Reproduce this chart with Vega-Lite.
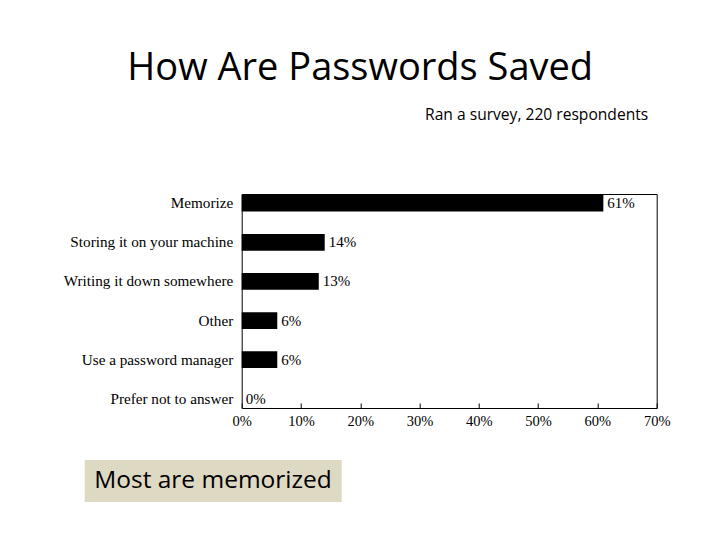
{
  "$schema": "https://vega.github.io/schema/vega-lite/v6.json",
  "width": 415,
  "height": 214,
  "autosize": {"type": "none"},
  "padding": {"left": 241.7, "top": 194, "right": 63.3, "bottom": 132},
  "background": "white",
  "title": {
    "text": "How Are Passwords Saved",
    "font": "Open Sans",
    "fontSize": 38,
    "fontWeight": "normal",
    "color": "black",
    "anchor": "middle",
    "frame": "group",
    "dx": -89,
    "offset": 19
  },
  "data": {
    "values": [
      {"option": "Memorize", "share": 0.61},
      {"option": "Storing it on your machine", "share": 0.14},
      {"option": "Writing it down somewhere", "share": 0.13},
      {"option": "Other", "share": 0.06},
      {"option": "Use a password manager", "share": 0.06},
      {"option": "Prefer not to answer", "share": 0.0}
    ]
  },
  "encoding": {
    "y": {
      "field": "option",
      "type": "nominal",
      "sort": null,
      "scale": {"paddingInner": 0.57, "paddingOuter": 0.02},
      "axis": {
        "domain": false,
        "ticks": false,
        "labelFont": "Liberation Serif",
        "labelFontSize": 15.2,
        "labelColor": "black",
        "labelPadding": 9,
        "labelLimit": 0,
        "title": "Ran a survey, 220 respondents",
        "titleAngle": 0,
        "titleX": 406,
        "titleY": -75,
        "titleAlign": "right",
        "titleBaseline": "alphabetic",
        "titleFont": "Open Sans",
        "titleFontSize": 15.6,
        "titleFontWeight": "normal",
        "titleColor": "black"
      }
    },
    "x": {
      "field": "share",
      "type": "quantitative",
      "scale": {"domain": [0, 0.7], "nice": false},
      "axis": {
        "format": ".0%",
        "values": [0, 0.1, 0.2, 0.3, 0.4, 0.5, 0.6, 0.7],
        "grid": false,
        "domain": false,
        "tickSize": -5,
        "tickColor": "black",
        "labelFlush": false,
        "labelFont": "Liberation Serif",
        "labelFontSize": 14.5,
        "labelColor": "black",
        "labelPadding": 11,
        "title": null
      }
    }
  },
  "layer": [
    {
      "mark": {"type": "bar"},
      "encoding": {
        "color": {
          "datum": "Most are memorized",
          "scale": {"range": ["black"]},
          "legend": {
            "orient": "none",
            "legendX": -157,
            "legendY": 266,
            "title": null,
            "fillColor": "#ddd9c3",
            "padding": 9,
            "symbolSize": 0,
            "symbolStrokeWidth": 0,
            "labelOffset": -24,
            "labelFont": "Open Sans",
            "labelFontSize": 24.5,
            "labelColor": "black",
            "labelLimit": 0
          }
        }
      }
    },
    {
      "mark": {
        "type": "text",
        "align": "left",
        "baseline": "middle",
        "dx": 4,
        "font": "Liberation Serif",
        "fontSize": 15,
        "color": "black"
      },
      "encoding": {
        "text": {"field": "share", "type": "quantitative", "format": ".0%"}
      }
    }
  ],
  "config": {
    "view": {"stroke": "black", "strokeWidth": 1}
  }
}
